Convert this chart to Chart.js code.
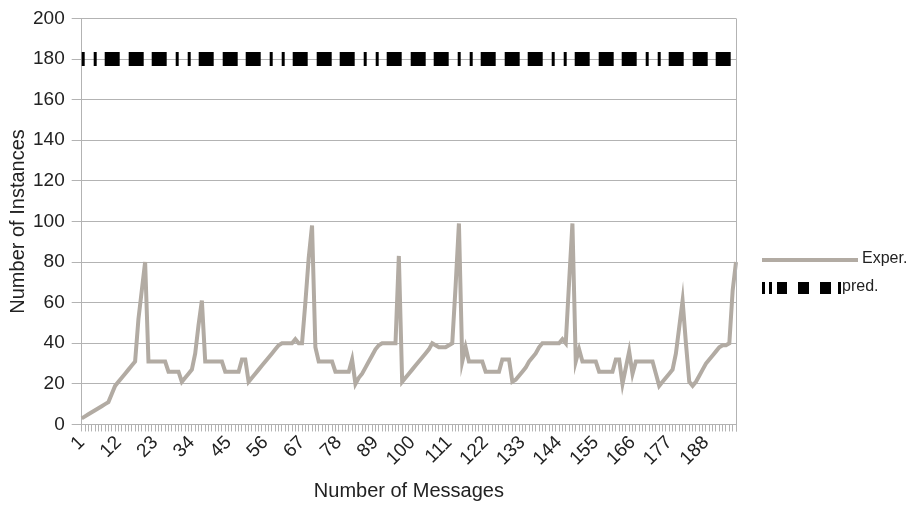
<!DOCTYPE html>
<html>
<head>
<meta charset="utf-8">
<script src="https://cdn.jsdelivr.net/npm/chart.js@4.4.1/dist/chart.umd.min.js"></script>
<style>
  html, body { margin: 0; padding: 0; background: #fff; }
  #wrap { width: 920px; height: 507px; }
</style>
</head>
<body>
<div id="wrap"><canvas id="chart"></canvas></div>
<script>
// categories: message counts 1..197
var messageCounts = Array.from({ length: 197 }, function (_, i) { return String(i + 1); });
var shownTicks = ['1', '12', '23', '34', '45', '56', '67', '78', '89', '100',
    '111', '122', '133', '144', '155', '166', '177', '188'];

var experValues = [
    3, 4, 5, 6, 7, 8, 9, 10, 11, 15,
    19, 21, 23, 25, 27, 29, 31, 52, 66, 80,
    31, 31, 31, 31, 31, 31, 26, 26, 26, 26,
    21, 23, 25, 27, 35, 49, 61, 31, 31, 31,
    31, 31, 31, 26, 26, 26, 26, 26, 32, 32,
    21, 23, 25, 27, 29, 31, 33, 35, 37, 39,
    40, 40, 40, 40, 42, 40, 40, 60, 82, 98,
    38, 31, 31, 31, 31, 31, 26, 26, 26, 26,
    26, 32, 20, 23, 25, 28, 31, 34, 37, 39,
    40, 40, 40, 40, 40, 83, 21, 23, 25, 27,
    29, 31, 33, 35, 37, 40, 39, 38, 38, 38,
    39, 40, 68, 99, 31, 38, 31, 31, 31, 31,
    31, 26, 26, 26, 26, 26, 32, 32, 32, 21,
    22, 24, 26, 28, 31, 33, 35, 38, 40, 40,
    40, 40, 40, 40, 42, 40, 70, 99, 31, 37,
    31, 31, 31, 31, 31, 26, 26, 26, 26, 26,
    32, 32, 20, 28, 36, 25, 31, 31, 31, 31,
    31, 31, 25, 19, 21, 23, 25, 27, 35, 48,
    61, 40, 21, 19, 21, 24, 27, 30, 32, 34,
    36, 38, 39, 39, 40, 66, 80
];
// predicted instances: flat
var predValues = messageCounts.map(function () { return 180; });

var seriesNames = ['Exper.', 'pred.'];
var experColor = '#b2aba3';
var gridColor = '#b3b3b3';
var textColor = '#222222';
var predDash = [3, 9, 3, 8, 15, 9, 15, 8, 15, 9];

Chart.defaults.font.family = "'Liberation Sans', Arial, sans-serif";
Chart.defaults.color = textColor;

// right frame line + legend on the right side
var sideLegend = {
    id: 'sideLegend',
    afterDatasetsDraw: function (chart) {
        var ctx = chart.ctx;
        var area = chart.chartArea;
        ctx.save();
        ctx.strokeStyle = gridColor;
        ctx.lineWidth = 1;
        ctx.beginPath();
        ctx.moveTo(area.right + 0.5, area.top);
        ctx.lineTo(area.right + 0.5, area.bottom + 7);
        ctx.stroke();

        var x0 = area.right + 26;
        var y1 = 260, y2 = 288;
        ctx.strokeStyle = experColor;
        ctx.lineWidth = 4;
        ctx.beginPath();
        ctx.moveTo(x0, y1);
        ctx.lineTo(x0 + 96, y1);
        ctx.stroke();

        ctx.strokeStyle = '#000';
        ctx.lineWidth = 12;
        ctx.setLineDash([3, 4, 3, 5, 10, 11, 11, 11, 11, 7, 3, 50]);
        ctx.beginPath();
        ctx.moveTo(x0, y2);
        ctx.lineTo(x0 + 79, y2);
        ctx.stroke();
        ctx.setLineDash([]);

        ctx.fillStyle = textColor;
        ctx.font = "16px 'Liberation Sans', Arial, sans-serif";
        ctx.textBaseline = 'middle';
        ctx.fillText(seriesNames[0], x0 + 100, y1 - 1);
        ctx.fillText(seriesNames[1], x0 + 80, y2 - 1);
        ctx.restore();
    }
};

new Chart(document.getElementById('chart'), {
    type: 'line',
    data: {
        labels: messageCounts,
        datasets: [{
            label: seriesNames[0],
            data: experValues,
            borderColor: experColor,
            borderWidth: 4,
            pointRadius: 0,
            tension: 0,
            fill: false
        }, {
            label: seriesNames[1],
            data: predValues,
            borderColor: '#000000',
            borderWidth: 14,
            borderDash: predDash,
            borderCapStyle: 'butt',
            pointRadius: 0,
            tension: 0,
            fill: false
        }]
    },
    options: {
        responsive: true,
        maintainAspectRatio: false,
        animation: false,
        layout: { padding: { left: 0, right: 184, top: 8, bottom: 4 } },
        plugins: {
            legend: { display: false },
            tooltip: { enabled: false }
        },
        scales: {
            x: {
                offset: false,
                grid: { display: true, drawOnChartArea: false, color: gridColor, tickLength: 7 },
                border: { color: gridColor },
                ticks: {
                    autoSkip: false,
                    maxRotation: 45,
                    minRotation: 45,
                    padding: 0,
                    font: { size: 19 },
                    callback: function (value, index) {
                        var lab = messageCounts[index];
                        return shownTicks.indexOf(lab) >= 0 ? lab : '';
                    }
                },
                title: { display: true, text: 'Number of Messages', font: { size: 20 }, padding: { top: 9, bottom: 0 } }
            },
            y: {
                min: 0,
                max: 200,
                grid: { color: gridColor, tickLength: 10 },
                border: { color: gridColor },
                ticks: { stepSize: 20, padding: 7, font: { size: 19 } },
                title: { display: true, text: 'Number of Instances', font: { size: 20 }, padding: { top: 6, bottom: -4 } }
            }
        }
    },
    plugins: [sideLegend]
});
</script>
</body>
</html>
